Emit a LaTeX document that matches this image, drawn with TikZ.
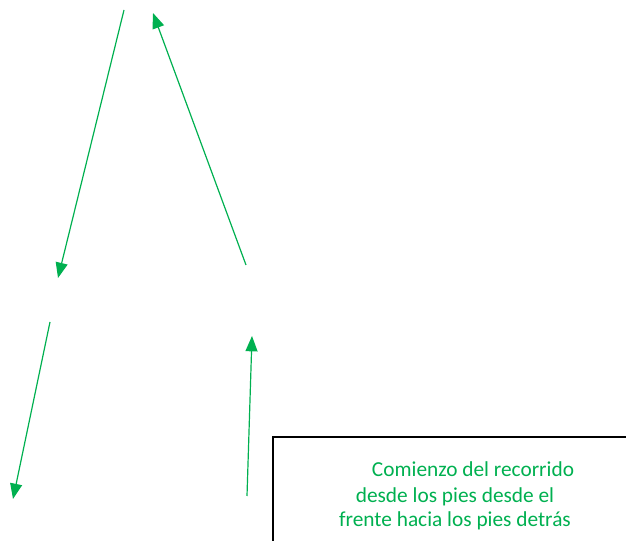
\documentclass[tikz,border=0pt]{standalone}
\usepackage{fontspec}
\setmainfont{Carlito}
\usetikzlibrary{arrows.meta}
\definecolor{ofgreen}{RGB}{0,176,80}
\tikzset{
  greenarrow/.style={draw=ofgreen, line width=0.9pt, -{Triangle[length=11.5pt,width=9pt]}},
  greentext/.style={text=ofgreen, font=\fontsize{16pt}{19pt}\selectfont, inner sep=0pt, anchor=base}
}
\begin{document}
\begin{tikzpicture}[x=0.75pt,y=0.75pt,yscale=-1,xscale=1]
\useasboundingbox (0,0) rectangle (626,541);

% Points
\coordinate (s1) at (124,10);
\coordinate (e1) at (58,278);
\coordinate (s2) at (246,265);
\coordinate (e2) at (153,13);
\coordinate (s3) at (50,322);
\coordinate (e3) at (13,499);
\coordinate (s4) at (247,496);
\coordinate (e4) at (252,336);

%Straight Lines
\draw [greenarrow] (s1) -- (e1);
%Straight Lines
\draw [greenarrow] (s2) -- (e2);
%Straight Lines
\draw [greenarrow] (s3) -- (e3);
%Straight Lines
\draw [greenarrow] (s4) -- (e4);

%Shape: Rectangle
\draw [line width=1.5pt] (273,545) -- (273,437) -- (630,437);

% Text Node
\node [greentext] (line1) at (473,477) {Comienzo del recorrido};
% Text Node
\node [greentext] (line2) at (455,503) {desde los pies desde el};
% Text Node
\node [greentext] (line3) at (455,527) {frente hacia los pies detrás};

\end{tikzpicture}
\end{document}
